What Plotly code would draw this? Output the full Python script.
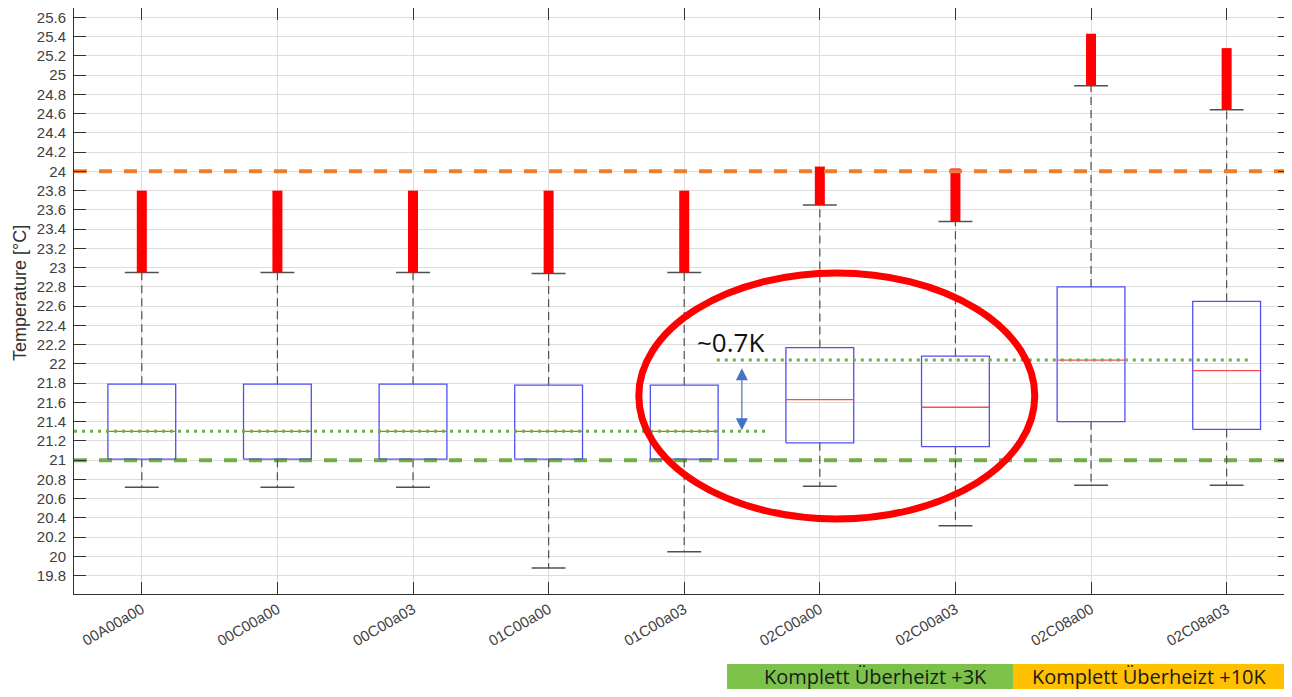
import plotly.graph_objects as go

# ---------------- data ----------------
categories = ['00A00a00', '00C00a00', '00C00a03', '01C00a00', '01C00a03',
              '02C00a00', '02C00a03', '02C08a00', '02C08a03']
q1 = [21.01, 21.01, 21.01, 21.01, 21.01, 21.18, 21.14, 21.40, 21.32]
median = [21.30, 21.30, 21.30, 21.30, 21.30, 21.63, 21.55, 22.04, 21.93]
q3 = [21.79, 21.79, 21.79, 21.78, 21.78, 22.17, 22.08, 22.80, 22.65]
lower_whisker = [20.72, 20.72, 20.72, 19.88, 20.05, 20.73, 20.32, 20.74, 20.74]
upper_whisker = [22.95, 22.95, 22.95, 22.94, 22.95, 23.65, 23.48, 24.89, 24.64]
outlier_max = [23.80, 23.80, 23.80, 23.80, 23.80, 24.05, 24.03, 25.43, 25.28]

ytick_labels = ['19.8', '20', '20.2', '20.4', '20.6', '20.8', '21', '21.2', '21.4',
                '21.6', '21.8', '22', '22.2', '22.4', '22.6', '22.8', '23', '23.2',
                '23.4', '23.6', '23.8', '24', '24.2', '24.4', '24.6', '24.8', '25',
                '25.2', '25.4', '25.6']

comfort_upper = 24.0
comfort_lower = 21.0
baseline_median = 21.30
overheat_median = 22.04
delta_label = '~0.7K'
group_labels = ['Komplett Überheizt +3K', 'Komplett Überheizt +10K']

# ---------------- geometry / styles ----------------
pos = [i + 1 for i in range(len(categories))]
BOX_HALF = 0.25
CAP_HALF = 0.125
XR = [0.5, 9.423]
YR = [19.61, 25.697]
ytick_vals = [float(t) for t in ytick_labels]

def segs(pairs):
    xs, ys = [], []
    for (xa, ya, xb, yb) in pairs:
        xs += [xa, xb, None]
        ys += [ya, yb, None]
    return xs, ys

fig = go.Figure()

# reference lines (upper one on y2 so the right-hand tick marks get drawn)
fig.add_trace(go.Scatter(x=XR, y=[comfort_upper] * 2, mode='lines', yaxis='y2',
                         line=dict(color='#ED7D31', width=4, dash='13px,12px'),
                         hoverinfo='skip', showlegend=False))
fig.add_trace(go.Scatter(x=XR, y=[comfort_lower] * 2, mode='lines',
                         line=dict(color='#70AD47', width=4, dash='13px,12px'),
                         hoverinfo='skip', showlegend=False))

# whiskers (dashed)
wx, wy = segs([(p, a, p, b) for p, a, b in zip(pos, q3, upper_whisker)] +
              [(p, a, p, b) for p, a, b in zip(pos, q1, lower_whisker)])
fig.add_trace(go.Scatter(x=wx, y=wy, mode='lines',
                         line=dict(color='#505050', width=1.2, dash='8px,5px'),
                         hoverinfo='skip', showlegend=False))
# caps
cx, cy = segs([(p - CAP_HALF, v, p + CAP_HALF, v) for p, v in zip(pos, upper_whisker)] +
              [(p - CAP_HALF, v, p + CAP_HALF, v) for p, v in zip(pos, lower_whisker)])
fig.add_trace(go.Scatter(x=cx, y=cy, mode='lines',
                         line=dict(color='#505050', width=1.5),
                         hoverinfo='skip', showlegend=False))

# boxes
bx, by = [], []
for p, a, b in zip(pos, q1, q3):
    bx += [p - BOX_HALF, p + BOX_HALF, p + BOX_HALF, p - BOX_HALF, p - BOX_HALF, None]
    by += [a, a, b, b, a, None]
fig.add_trace(go.Scatter(x=bx, y=by, mode='lines',
                         line=dict(color='#5050f0', width=1.3),
                         hoverinfo='skip', showlegend=False))
# medians
mx, my = segs([(p - BOX_HALF, m, p + BOX_HALF, m) for p, m in zip(pos, median)])
fig.add_trace(go.Scatter(x=mx, y=my, mode='lines',
                         line=dict(color='#ff4a4a', width=1.3),
                         hoverinfo='skip', showlegend=False))

# outliers (dense red bars)
ox, oy = segs([(p, a, p, b) for p, a, b in zip(pos, upper_whisker, outlier_max)])
fig.add_trace(go.Scatter(x=ox, y=oy, mode='lines',
                         line=dict(color='#ff0000', width=10),
                         hoverinfo='skip', showlegend=False))

# green dotted median levels
fig.add_trace(go.Scatter(x=[XR[0], 5.61], y=[baseline_median] * 2, mode='lines',
                         line=dict(color='#70AD47', width=3, dash='3px,5px'),
                         hoverinfo='skip', showlegend=False))
fig.add_trace(go.Scatter(x=[5.24, 9.19], y=[overheat_median] * 2, mode='lines',
                         line=dict(color='#70AD47', width=3, dash='3px,5px'),
                         hoverinfo='skip', showlegend=False))

# ellipse highlight
fig.add_shape(type='circle', xref='x', yref='y', x0=4.665, x1=7.585, y0=20.39, y1=22.945,
              line=dict(color='#ff0000', width=7))

# group label boxes below the axis
fig.add_shape(type='rect', xref='paper', yref='paper', x0=0.5397, x1=0.7760,
              y0=-0.2, y1=-0.1195, fillcolor='#7CC24A', line=dict(width=0), layer='above')
fig.add_shape(type='rect', xref='paper', yref='paper', x0=0.7760, x1=1.0,
              y0=-0.2, y1=-0.1195, fillcolor='#FFC000', line=dict(width=0), layer='above')

annotations = [
    dict(text=group_labels[0], xref='paper', yref='paper', x=0.662, y=-0.1405,
         showarrow=False, xanchor='center', yanchor='middle',
         font=dict(family='Open Sans', size=20, color='#1a1a1a')),
    dict(text=group_labels[1], xref='paper', yref='paper', x=0.889, y=-0.1405,
         showarrow=False, xanchor='center', yanchor='middle',
         font=dict(family='Open Sans', size=20, color='#1a1a1a')),
    dict(text=delta_label, xref='x', yref='y', x=5.34, y=22.23, showarrow=False,
         xanchor='center', yanchor='middle',
         font=dict(family='Open Sans', size=26, color='#111111')),
    dict(text='', xref='x', yref='y', x=5.425, y=21.31, ax=5.425, ay=21.97,
         axref='x', ayref='y', showarrow=True, arrowhead=2, arrowside='end+start',
         arrowsize=2, arrowwidth=1.2, arrowcolor='#4472C4'),
    dict(text='Temperature [°C]', xref='paper', yref='paper', x=-0.0446, y=0.5137,
         textangle=-90, showarrow=False, xanchor='center', yanchor='middle',
         font=dict(family='Liberation Sans', size=18, color='#303030')),
]

axis_color = '#333333'
grid_color = '#dcdcdc'
# The page body keeps its default 8px margin; the figure is sized to fit the
# window without scrollbars and the margins place the axes where the
# reference has them.
fig.update_layout(
    width=1276, height=681, autosize=False,
    margin=dict(l=66, r=0, t=0, b=95),
    paper_bgcolor='white', plot_bgcolor='white',
    showlegend=False,
    annotations=annotations,
    xaxis=dict(range=XR, tickvals=pos, ticktext=categories, tickangle=-30,
               ticks='inside', ticklen=12, tickcolor=axis_color, showline=True,
               linecolor=axis_color, linewidth=1, mirror='ticks', showgrid=True,
               gridcolor=grid_color, zeroline=False,
               tickfont=dict(family='Liberation Sans', size=15, color='#404040')),
    yaxis=dict(range=YR, tickvals=ytick_vals, ticktext=ytick_labels,
               ticks='inside', ticklen=12, tickcolor=axis_color, showline=True,
               linecolor=axis_color, linewidth=1, mirror=False, showgrid=True,
               gridcolor=grid_color, zeroline=False, ticklabelstandoff=4,
               tickfont=dict(family='Liberation Sans', size=15, color='#404040')),
    yaxis2=dict(range=YR, overlaying='y', side='right', tickvals=ytick_vals,
                ticks='inside', ticklen=6, tickcolor=axis_color,
                showticklabels=False, showgrid=False, showline=False, zeroline=False),
)

fig.write_html('out.html')
